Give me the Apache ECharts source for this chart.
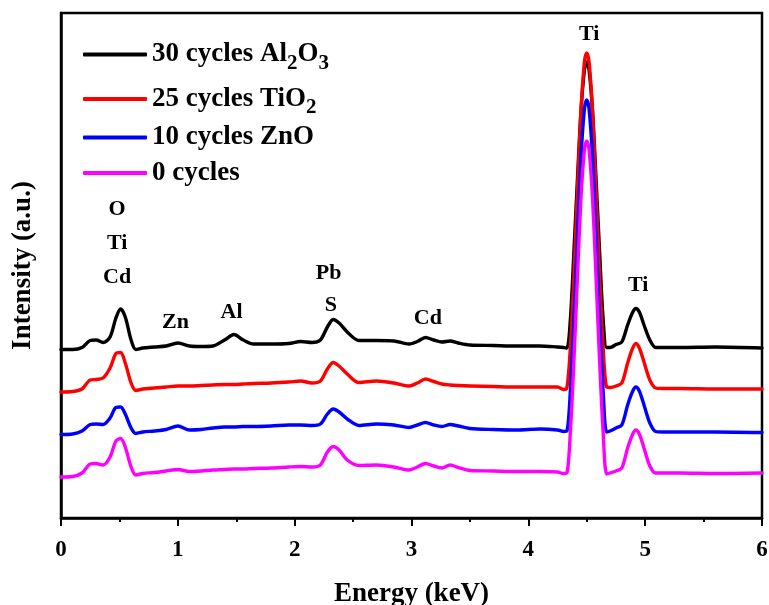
<!DOCTYPE html>
<html><head><meta charset="utf-8">
<script src="https://cdn.jsdelivr.net/npm/echarts@6/dist/echarts.min.js"></script>
<style>html,body{margin:0;padding:0;background:#fff}#c{width:769px;height:605px}</style>
</head><body><div id="c"></div>
<script>
// Energy axis (keV)
const energy = [
  0, 0.1, 0.18, 0.25, 0.3, 0.36, 0.42, 0.47, 0.51, 0.55,
  0.6, 0.64, 0.7, 0.8, 0.9, 1.0, 1.1, 1.2, 1.3, 1.4,
  1.48, 1.56, 1.65, 1.8, 1.95, 2.05, 2.15, 2.22, 2.28, 2.33,
  2.38, 2.45, 2.55, 2.7, 2.85, 2.98, 3.05, 3.12, 3.19, 3.26,
  3.33, 3.4, 3.5, 3.7, 3.9, 4.1, 4.25, 4.3, 4.33, 4.36,
  4.39, 4.42, 4.45, 4.48, 4.5, 4.52, 4.55, 4.58, 4.61, 4.64,
  4.67, 4.7, 4.75, 4.8, 4.85, 4.89, 4.92, 4.95, 4.99, 5.04,
  5.09, 5.15, 5.3, 5.6, 6.0
];
// Intensities (a.u., stacked offsets as in the figure)
const al2o3 = [
  168.5, 168.5, 170.5, 177.5, 178, 175.5, 181, 200, 209, 201,
  178, 168.5, 170, 171, 172, 175, 172, 171.5, 172, 178,
  183.5, 178, 174, 174, 174.5, 176.5, 175.5, 178, 191, 198.5,
  195, 186, 177.5, 177.5, 177, 174, 176.5, 180.5, 178, 176,
  177, 175, 173, 172.5, 172, 172, 171, 170.5, 170, 199,
  266, 338, 406, 448, 456, 448, 406, 338, 266, 199,
  170.5, 170.5, 173.5, 176, 193, 205, 209.5, 206, 193, 178,
  170.5, 170.5, 170.5, 171, 170
];
const tio2 = [
  126, 126.5, 129, 138, 138.5, 140, 150, 164.5, 165.5, 155,
  135, 127.5, 129, 130, 131, 132, 132, 132.5, 133, 133.5,
  133.5, 134, 134.5, 135, 136, 137, 135, 137, 149, 155.5,
  152, 144, 135.5, 137, 135, 132, 135, 139, 136.5, 134,
  133, 132.5, 132, 131.5, 131, 131, 131, 128.5, 130, 171,
  242, 326, 406, 456, 465, 456, 406, 326, 242, 171,
  131, 130.5, 132, 135, 155, 169, 174.5, 170, 156, 138,
  130, 129.5, 129.5, 129, 129
];
const zno = [
  83.5, 84, 87, 93.5, 94, 93.5, 100, 110.5, 111, 104,
  90, 84.5, 86, 87, 88.5, 92, 88, 88.5, 90, 91,
  91, 91.5, 91.5, 92, 93, 93, 92.5, 94, 104, 109,
  106, 99, 92.5, 94, 93, 90.5, 93, 95.5, 93, 91.5,
  93.5, 92, 89.5, 88.5, 88, 89, 88, 86.5, 87, 127.5,
  198, 281, 360, 409, 418, 409, 360, 281, 198, 127.5,
  86, 87, 90, 93, 113, 126, 131, 127, 113, 95,
  86.5, 86, 86, 86, 85.5
];
const bare = [
  41, 41.5, 45, 54, 54.5, 53, 61, 77, 79.5, 71,
  51, 43, 44.5, 45.5, 47, 48.5, 46.5, 47, 48, 48.5,
  49, 49, 49.5, 50, 51, 51.5, 51, 53, 66, 71.5,
  68, 58, 52.5, 53, 51, 48, 51, 54.5, 52, 50,
  53, 50.5, 47.5, 47, 46.5, 46.5, 46, 44.5, 45, 86.5,
  157, 240, 319, 368, 377, 368, 319, 240, 157, 86.5,
  44, 45, 47, 50, 70, 83, 88, 84, 70, 52,
  45, 45, 45, 44.5, 45
];
const seriesNames = ['30 cycles Al2O3', '25 cycles TiO2', '10 cycles ZnO', '0 cycles'];
const legendLabels = ['30 cycles Al{s|2}O{s|3}', '25 cycles TiO{s|2}', '10 cycles ZnO', '0 cycles'];
const xTicks = [0, 1, 2, 3, 4, 5, 6];
// Peak annotations
const peakLabels = ['O', 'Ti', 'Cd', 'Zn', 'Al', 'Pb', 'S', 'Cd', 'Ti', 'Ti'];
const peakE = [0.48, 0.48, 0.48, 0.98, 1.46, 2.29, 2.31, 3.14, 4.52, 4.94];
const peakI = [309, 275, 241, 196, 206, 245, 213, 200, 484, 233];

const FONT = '"Liberation Serif", "Times New Roman", serif';
const colors = ['#000000', '#ff0000', '#0000ff', '#ff00ff'];
const allData = [al2o3, tio2, zno, bare];
const legendCenters = [50, 94.5, 137.5, 173];

const chart = echarts.init(document.getElementById('c'), null, {renderer: 'canvas'});
const series = allData.map((arr, k) => ({
  name: seriesNames[k],
  type: 'line',
  data: energy.map((e, i) => [e, arr[i]]),
  showSymbol: false,
  symbol: 'none',
  smooth: 0.3,
  color: colors[k],
  lineStyle: {width: 3.4, color: colors[k], cap: 'round', join: 'round'},
  z: 2 + k,
  silent: true
}));
series.push({
  type: 'scatter',
  name: 'labels',
  data: peakE.map((e, i) => ({value: [e, peakI[i]], name: peakLabels[i]})),
  symbolSize: 0,
  itemStyle: {color: '#000'},
  silent: true,
  z: 10,
  label: {
    show: true, position: 'inside', formatter: '{b}',
    fontFamily: FONT, fontWeight: 'bold', fontSize: 22, color: '#000',
    textBorderWidth: 0, textBorderColor: '#000', opacity: 1
  }
});

const legends = seriesNames.map((n, i) => ({
  data: [n],
  left: 83,
  top: legendCenters[i] - 15,
  orient: 'vertical',
  icon: 'roundRect',
  itemWidth: 64,
  itemHeight: 4,
  padding: 0,
  selectedMode: false,
  formatter: () => legendLabels[i],
  textStyle: {
    fontFamily: FONT, fontWeight: 'bold', fontSize: 27, color: '#000', lineHeight: 30,
    rich: {
      s: {fontFamily: FONT, fontWeight: 'bold', fontSize: 21, color: '#000', lineHeight: 30, padding: [18, 0, 0, 0]}
    }
  }
}));

chart.setOption({
  animation: false,
  backgroundColor: '#fff',
  grid: {left: 61, right: 7, top: 13, bottom: 87, outerBoundsMode: 'none', containLabel: false,
         show: true, borderColor: '#000', borderWidth: 2.5, backgroundColor: 'transparent'},
  legend: legends,
  xAxis: {
    type: 'value', min: xTicks[0], max: xTicks[xTicks.length - 1], interval: 1,
    axisLine: {show: true, onZero: false, lineStyle: {color: '#000', width: 2.5}},
    axisTick: {show: true, length: 8, lineStyle: {color: '#000', width: 2}},
    minorTick: {show: true, splitNumber: 2, length: 4, lineStyle: {color: '#000', width: 2}},
    splitLine: {show: false},
    minorSplitLine: {show: false},
    axisLabel: {fontFamily: FONT, fontWeight: 'bold', fontSize: 23, color: '#000', margin: 21},
    name: 'Energy (keV)', nameLocation: 'middle', nameGap: 63,
    nameTextStyle: {fontFamily: FONT, fontWeight: 'bold', fontSize: 27, color: '#000'}
  },
  yAxis: {
    type: 'value', min: 0, max: 505,
    axisLine: {show: true, onZero: false, lineStyle: {color: '#000', width: 2.5}},
    axisTick: {show: false},
    axisLabel: {show: false},
    splitLine: {show: false},
    name: 'Intensity (a.u.)', nameLocation: 'middle', nameGap: 24,
    nameTextStyle: {fontFamily: FONT, fontWeight: 'bold', fontSize: 27, color: '#000'}
  },
  series: series
});
</script>
</body></html>
